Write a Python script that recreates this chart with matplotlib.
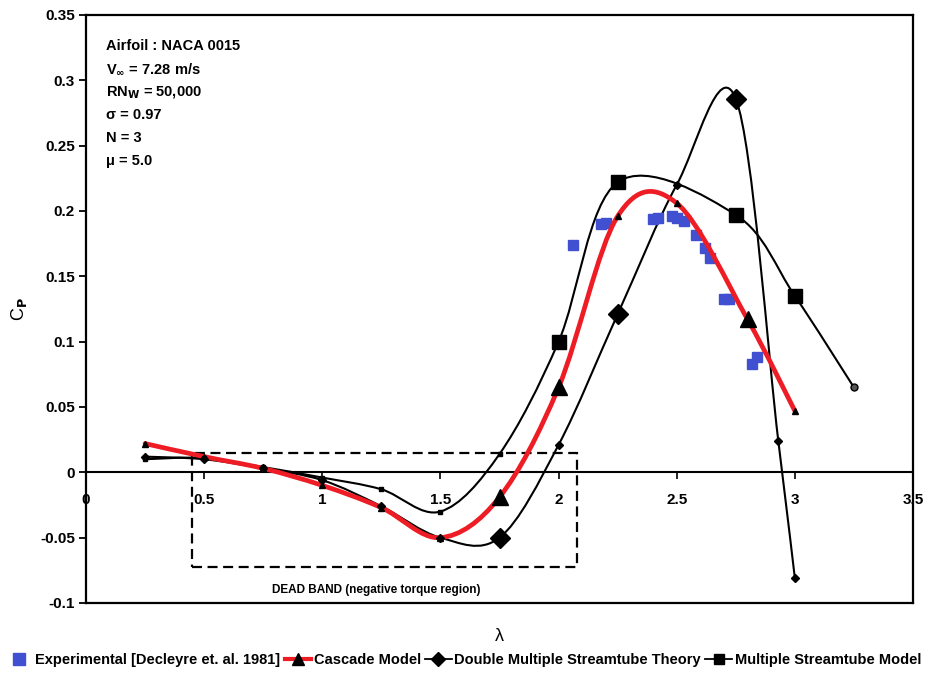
import matplotlib
matplotlib.use("Agg")

import numpy as np
import matplotlib.pyplot as plt
from matplotlib.path import Path
from matplotlib.patches import PathPatch, Rectangle
from matplotlib.lines import Line2D

plt.rcParams['font.family'] = ['Liberation Sans', 'DejaVu Sans']
plt.rcParams['font.weight'] = 'bold'

# --- data ---
exp_x = [2.06, 2.18, 2.20, 2.40, 2.42, 2.48, 2.50, 2.53, 2.58, 2.62, 2.64, 2.70, 2.72, 2.82, 2.84]
exp_y = [0.174, 0.190, 0.191, 0.194, 0.195, 0.196, 0.195, 0.192, 0.182, 0.172, 0.164, 0.133, 0.133, 0.083, 0.088]

cas_x = [0.25, 0.5, 0.75, 1.0, 1.25, 1.5, 1.75, 2.0, 2.25, 2.5, 2.8, 3.0]
cas_y = [0.022, 0.012, 0.003, -0.010, -0.027, -0.050, -0.019, 0.065, 0.196, 0.206, 0.117, 0.047]
cas_big = [1.75, 2.0, 2.8]

dms_x = [0.25, 0.5, 0.75, 1.0, 1.25, 1.5, 1.75, 2.0, 2.25, 2.5, 2.75, 2.93, 3.0]
dms_y = [0.012, 0.010, 0.003, -0.006, -0.026, -0.050, -0.050, 0.021, 0.121, 0.220, 0.286, 0.024, -0.081]
dms_big = [1.75, 2.25, 2.75]

ms_x = [0.25, 0.5, 0.75, 1.0, 1.25, 1.5, 1.75, 2.0, 2.25, 2.75, 3.0, 3.25]
ms_y = [0.010, 0.011, 0.004, -0.004, -0.013, -0.030, 0.014, 0.100, 0.222, 0.197, 0.135, 0.065]
ms_big = [2.0, 2.25, 2.75, 3.0]

x_ticks = [0, 0.5, 1, 1.5, 2, 2.5, 3, 3.5]
x_labels = ['0', '0.5', '1', '1.5', '2', '2.5', '3', '3.5']
y_ticks = [-0.1, -0.05, 0, 0.05, 0.1, 0.15, 0.2, 0.25, 0.3, 0.35]
y_labels = ['-0.1', '-0.05', '0', '0.05', '0.1', '0.15', '0.2', '0.25', '0.3', '0.35']

info = ['Airfoil : NACA 0015', r'V$_{\infty}$ = 7.28 m/s', r'RN$_\mathrm{W}$ = 50,000',
        'σ = 0.97', 'N = 3', 'μ = 5.0']

labels = ['Experimental [Decleyre et. al. 1981]', 'Cascade Model',
          'Double Multiple Streamtube Theory', 'Multiple Streamtube Model']

blue = '#4050d0'


def smooth_path(xs, ys):
    # Excel-like smoothed line (Catmull-Rom as cubic Bezier segments)
    pts = list(zip(xs, ys))
    n = len(pts)
    verts = [pts[0]]
    codes = [Path.MOVETO]
    for i in range(n - 1):
        p0 = pts[i - 1] if i > 0 else pts[i]
        p1 = pts[i]
        p2 = pts[i + 1]
        p3 = pts[i + 2] if i + 2 < n else pts[i + 1]
        c1 = (p1[0] + (p2[0] - p0[0]) / 6, p1[1] + (p2[1] - p0[1]) / 6)
        c2 = (p2[0] - (p3[0] - p1[0]) / 6, p2[1] - (p3[1] - p1[1]) / 6)
        verts += [c1, c2, p2]
        codes += [Path.CURVE4] * 3
    return Path(verts, codes)


def split(xs, ys, big):
    bx = [x for x in xs if x in big]
    by = [y for x, y in zip(xs, ys) if x in big]
    sx = [x for x in xs if x not in big]
    sy = [y for x, y in zip(xs, ys) if x not in big]
    return bx, by, sx, sy


fig = plt.figure(figsize=(9.27, 6.75), dpi=100)
ax = fig.add_axes([86 / 927, 72 / 675, 827 / 927, 588 / 675])
ax.set_xlim(0, 3.5)
ax.set_ylim(-0.1, 0.35)

for s in ax.spines.values():
    s.set_linewidth(1.6)

ax.set_xticks([])
ax.set_yticks(y_ticks)
ax.set_yticklabels(y_labels)
ax.tick_params(axis='y', direction='out', length=5, width=1.3, labelsize=11, pad=3)

# x axis drawn through zero
secax = ax.secondary_xaxis(0.1 / 0.45)
secax.set_xticks(x_ticks)
secax.set_xticklabels(x_labels)
secax.tick_params(direction='out', length=5, width=1.2, labelsize=11, pad=10)
secax.spines['bottom'].set_linewidth(1.5)

# curves
ax.add_patch(PathPatch(smooth_path(ms_x, ms_y), fill=False, lw=1.5, ec='k', zorder=3))
ax.add_patch(PathPatch(smooth_path(dms_x, dms_y), fill=False, lw=1.5, ec='k', zorder=3))
ax.add_patch(PathPatch(smooth_path(cas_x, cas_y), fill=False, lw=3.4, ec='#ee1c24',
                       zorder=5, capstyle='round'))

ax.plot(exp_x, exp_y, ls='none', marker='s', ms=7.5, color=blue, zorder=4)

bx, by, sx, sy = split(ms_x, ms_y, ms_big)
ax.plot(bx, by, ls='none', marker='s', ms=10, color='k', zorder=6)
ax.plot(sx[:-1], sy[:-1], ls='none', marker='s', ms=3.5, color='k', zorder=6)
ax.plot(sx[-1:], sy[-1:], ls='none', marker='o', ms=5, color='k', mfc='#555555', zorder=6)

bx, by, sx, sy = split(dms_x, dms_y, dms_big)
ax.plot(bx, by, ls='none', marker='D', ms=10, color='k', zorder=6)
ax.plot(sx, sy, ls='none', marker='D', ms=4, color='k', zorder=6)

bx, by, sx, sy = split(cas_x, cas_y, cas_big)
ax.plot(bx, by, ls='none', marker='^', ms=11, color='k', zorder=6)
ax.plot(sx, sy, ls='none', marker='^', ms=5, color='k', zorder=6)

# dead band
ax.add_patch(Rectangle((0.449, -0.0727), 2.08 - 0.449, 0.0145 + 0.0727, fill=False,
                       ls=(0, (4.5, 2.5)), lw=1.6, ec='k', zorder=2))
ax.text(1.23, -0.090, 'DEAD BAND (negative torque region)', ha='center', va='center',
        fontsize=8.5)

for i, line in enumerate(info):
    ax.text(0.085, 0.326 - i * 0.0176, line, ha='left', va='center', fontsize=10.5)

ax.set_xlabel('λ', fontsize=13, labelpad=18)
ax.set_ylabel(r'C$_\mathrm{P}$', fontsize=13, labelpad=8)

handles = [
    Line2D([], [], ls='none', marker='s', ms=8, color=blue),
    Line2D([], [], color='#ee1c24', lw=3, marker='^', ms=8, mfc='k', mec='k'),
    Line2D([], [], color='k', lw=1.3, marker='D', ms=7),
    Line2D([], [], color='k', lw=1.3, marker='s', ms=7),
]
fig.legend(handles, labels, loc='center', bbox_to_anchor=(0.5, 1 - 660 / 675), ncol=4,
           frameon=False, fontsize=10.5, handlelength=1.8, handletextpad=0.2,
           columnspacing=0.3, borderaxespad=0)

fig.savefig('out.png', dpi=100)
